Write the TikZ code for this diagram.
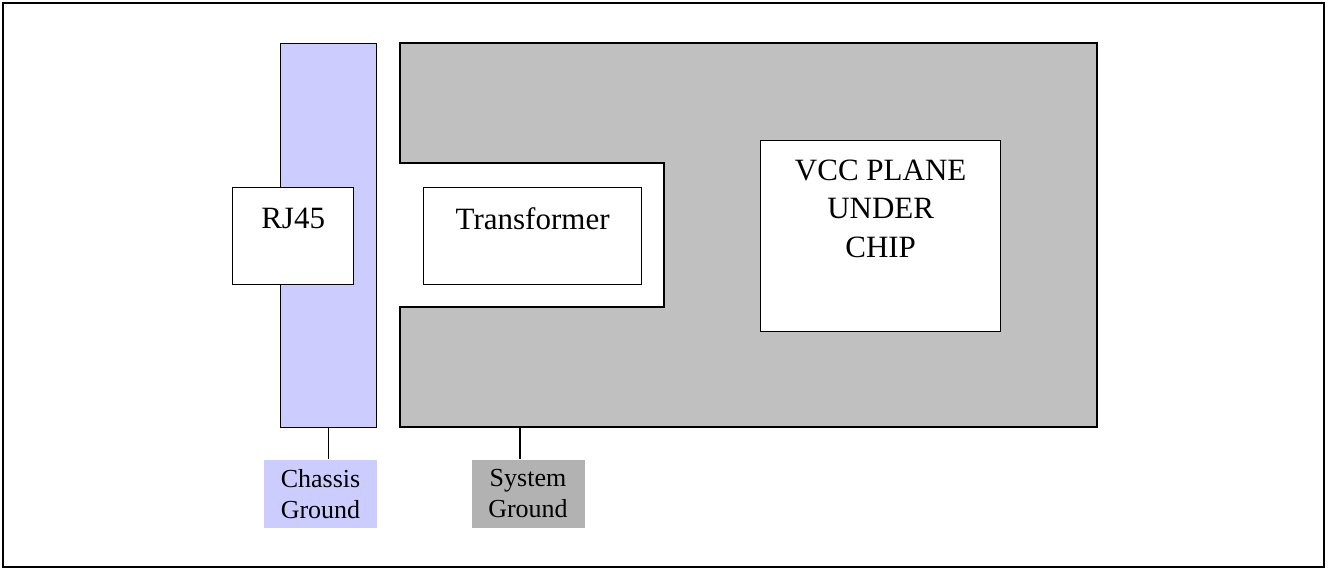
\documentclass[tikz,border=0pt]{standalone}
\usepackage{fontspec}
\setmainfont{Liberation Serif}
\usetikzlibrary{positioning}
\definecolor{chassisB}{HTML}{CCCCFF}
\definecolor{planeG}{HTML}{C0C0C0}
\definecolor{sysG}{HTML}{B2B2B2}

\begin{document}
\begin{tikzpicture}[x=1pt, y=-1pt, line width=1.3pt,
  box/.style={draw, fill=white, inner sep=0pt},
  bigtxt/.style={font=\fontsize{31}{38.5}\selectfont, inner sep=0pt, align=center},
  gndlbl/.style={font=\fontsize{26}{31}\selectfont, inner sep=0pt, align=center,
    minimum width=113pt, minimum height=68pt}]
  % frame
  \useasboundingbox (0,0) rectangle (1328,570);
  \draw (3,3) rectangle (1324,567);
  % chassis strip
  \node[draw, fill=chassisB, minimum width=96, minimum height=384, anchor=north west]
     (chassis) at (280,43) {};
  % system plane, notched round the transformer
  \filldraw[fill=planeG] (400,43) -- (1097,43) -- (1097,427) -- (400,427)
     -- (400,307) -- (664,307) -- (664,163) -- (400,163) -- cycle;
  \coordinate (sysTap) at (520,427);
  % parts
  \node[box, minimum width=121, minimum height=97, anchor=north west] (rj) at (232,187) {};
  \node[bigtxt, below=20pt of rj.north] (rjtxt) {RJ45};
  \node[box, minimum width=218, minimum height=97, anchor=north west] (xfmr) at (423,187) {};
  \node[bigtxt, below=20pt of xfmr.north] (xfmrtxt) {Transformer};
  \node[box, minimum width=240, minimum height=191, anchor=north west] (vcc) at (760,140) {};
  \node[bigtxt, below=19pt of vcc.north] (vcctxt) {VCC PLANE\\UNDER\\CHIP};
  % ground labels
  \node[gndlbl, fill=chassisB] (chgnd) at (320.5,494) {Chassis\\Ground};
  \node[gndlbl, fill=sysG] (sysgnd) at (528,494) {System\\Ground};
  \draw (chassis.south) -- (chassis.south |- chgnd.north);
  \draw (sysTap) -- (sysTap |- sysgnd.north);
\end{tikzpicture}
\end{document}
